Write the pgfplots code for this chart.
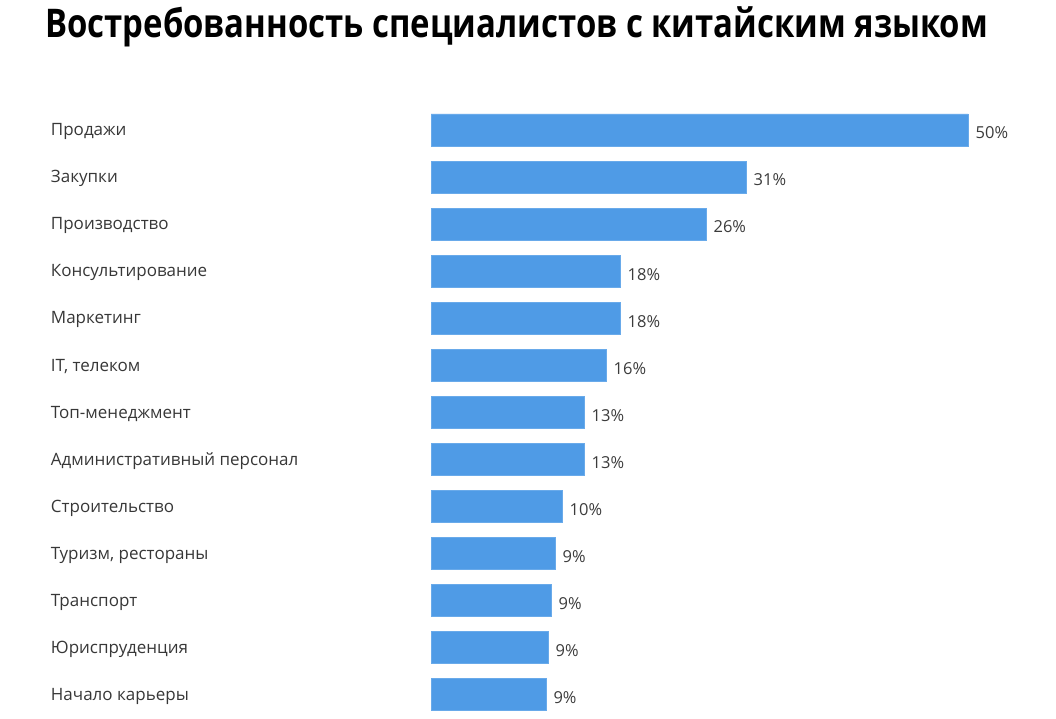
\documentclass[border=0pt]{standalone}
\usepackage{pgfplots}
\pgfplotsset{compat=1.18}
\usepackage{fontspec}
\setmainfont{Open Sans}
\newfontfamily\titlefont{Open Sans}
\newfontfamily\catfont{Open Sans}
\definecolor{barblue}{RGB}{79,155,230}
\definecolor{labgray}{RGB}{55,55,55}
\definecolor{valgray}{RGB}{60,60,60}
\begin{document}
\begin{tikzpicture}
\path[use as bounding box] (0,0) rectangle (1056pt,719pt);
\node[anchor=base west, inner sep=0pt] at (45pt,681pt)
  {\resizebox{943pt}{\height}{\titlefont\bfseries\fontsize{39.5}{44}\selectfont Востребованность специалистов с китайским языком}};
\begin{axis}[
  at={(431pt,0.7pt)}, anchor=south west,
  scale only axis, width=537pt, height=611.9pt,
  xmin=0, xmax=50, ymin=-0.5, ymax=12.5, y dir=reverse,
  axis line style={draw=none}, tick style={draw=none},
  xtick=\empty,
  ytick={0,...,12},
  yticklabels={Продажи, Закупки, Производство, Консультирование, Маркетинг, {IT, телеком}, Топ-менеджмент, Административный персонал, Строительство, {Туризм, рестораны}, Транспорт, Юриспруденция, Начало карьеры},
  yticklabel style={anchor=west, xshift=-376pt, yshift=-1.5pt, inner sep=0pt, font=\catfont\fontsize{17}{19}\selectfont, text=labgray},
  xbar, bar width=32pt, bar shift=0pt,
  point meta=explicit symbolic,
  nodes near coords,
  nodes near coords style={anchor=west, xshift=4pt, yshift=-3pt, font=\fontsize{16.5}{18}\selectfont, text=valgray},
  clip=false,
]
\addplot[fill=barblue, draw=barblue!85!white, line width=0.6pt] coordinates {
  (50.0,0) [50\%]
  (29.33,1) [31\%]
  (25.6,2) [26\%]
  (17.6,3) [18\%]
  (17.6,4) [18\%]
  (16.3,5) [16\%]
  (14.25,6) [13\%]
  (14.25,7) [13\%]
  (12.2,8) [10\%]
  (11.55,9) [9\%]
  (11.17,10) [9\%]
  (10.9,11) [9\%]
  (10.7,12) [9\%]
};
\end{axis}
\end{tikzpicture}
\end{document}
